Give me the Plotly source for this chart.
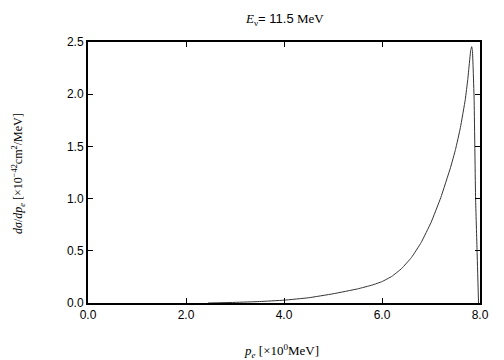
import plotly.graph_objects as go

# momentum of electron p_e (x 10^0 MeV)
p_e = [2.45, 3.0, 3.5, 4.0, 4.5, 5.0, 5.5, 5.8, 6.0, 6.2, 6.4, 6.6, 6.8, 7.0,
       7.2, 7.4, 7.5, 7.6, 7.7, 7.75, 7.79, 7.81, 7.83, 7.845, 7.86, 7.88, 7.91,
       7.94, 7.97]
# dsigma/dp_e (x 10^-42 cm^2/MeV)
dsigma = [0.0, 0.006, 0.014, 0.027, 0.05, 0.088, 0.135, 0.172, 0.205, 0.255, 0.33, 0.435,
          0.58, 0.77, 1.01, 1.30, 1.47, 1.68, 1.95, 2.14, 2.33, 2.42, 2.455, 2.42,
          2.25, 1.95, 1.0, 0.5, 0.0]

x_ticks = [0, 2, 4, 6, 8]
x_tick_labels = ["0.0", "2.0", "4.0", "6.0", "8.0"]
y_ticks = [0, 0.5, 1.0, 1.5, 2.0, 2.5]
y_tick_labels = ["0.0", "0.5", "1.0", "1.5", "2.0", "2.5"]

SANS = "Liberation Sans, Arial, sans-serif"
SERIF = "Liberation Serif, Times New Roman, serif"

fig = go.Figure()
fig.add_trace(go.Scatter(x=p_e, y=dsigma, mode="lines",
                         line=dict(color="#333333", width=1, shape="spline", smoothing=0.3),
                         showlegend=False))

axis_common = dict(showline=True, linecolor="black", linewidth=2, mirror="ticks",
                   ticks="inside", ticklen=5, tickwidth=1, tickcolor="black",
                   showgrid=False, zeroline=False,
                   tickfont=dict(family=SANS, size=12, color="black"))

fig.update_xaxes(range=[0, 8], tickvals=x_ticks, ticktext=x_tick_labels, **axis_common)
fig.update_yaxes(range=[0, 2.5], tickvals=y_ticks, ticktext=y_tick_labels, **axis_common)

fig.update_layout(
    width=504, height=360,
    margin=dict(l=88, r=24, t=42, b=57),
    plot_bgcolor="white", paper_bgcolor="white",
    annotations=[
        dict(text="<i>E</i><sub>ν</sub><span style='font-family:Liberation Sans'>= 11.5</span> MeV",
             xref="paper", yref="paper", x=0.5, y=(303 - 20) / 261,
             xanchor="center", yanchor="middle", showarrow=False,
             font=dict(family=SERIF, size=13, color="black")),
        dict(text="<i>p<sub>e</sub></i> [×10<sup>0</sup>MeV]",
             xref="paper", yref="paper", x=(281 - 88) / 392, y=(303 - 351) / 261,
             xanchor="center", yanchor="middle", showarrow=False,
             font=dict(family=SERIF, size=13, color="black")),
        dict(text="<i>dσ</i>/<i>dp<sub>e</sub></i> [×10<sup>−42</sup>cm<sup>2</sup>/MeV]",
             xref="paper", yref="paper", x=(18 - 88) / 392, y=(303 - 174) / 261,
             xanchor="center", yanchor="middle", showarrow=False, textangle=-90,
             font=dict(family=SERIF, size=12, color="black")),
    ],
)

fig.write_html("out.html", config={"displayModeBar": False},
               post_script="document.body.style.margin='0';")
